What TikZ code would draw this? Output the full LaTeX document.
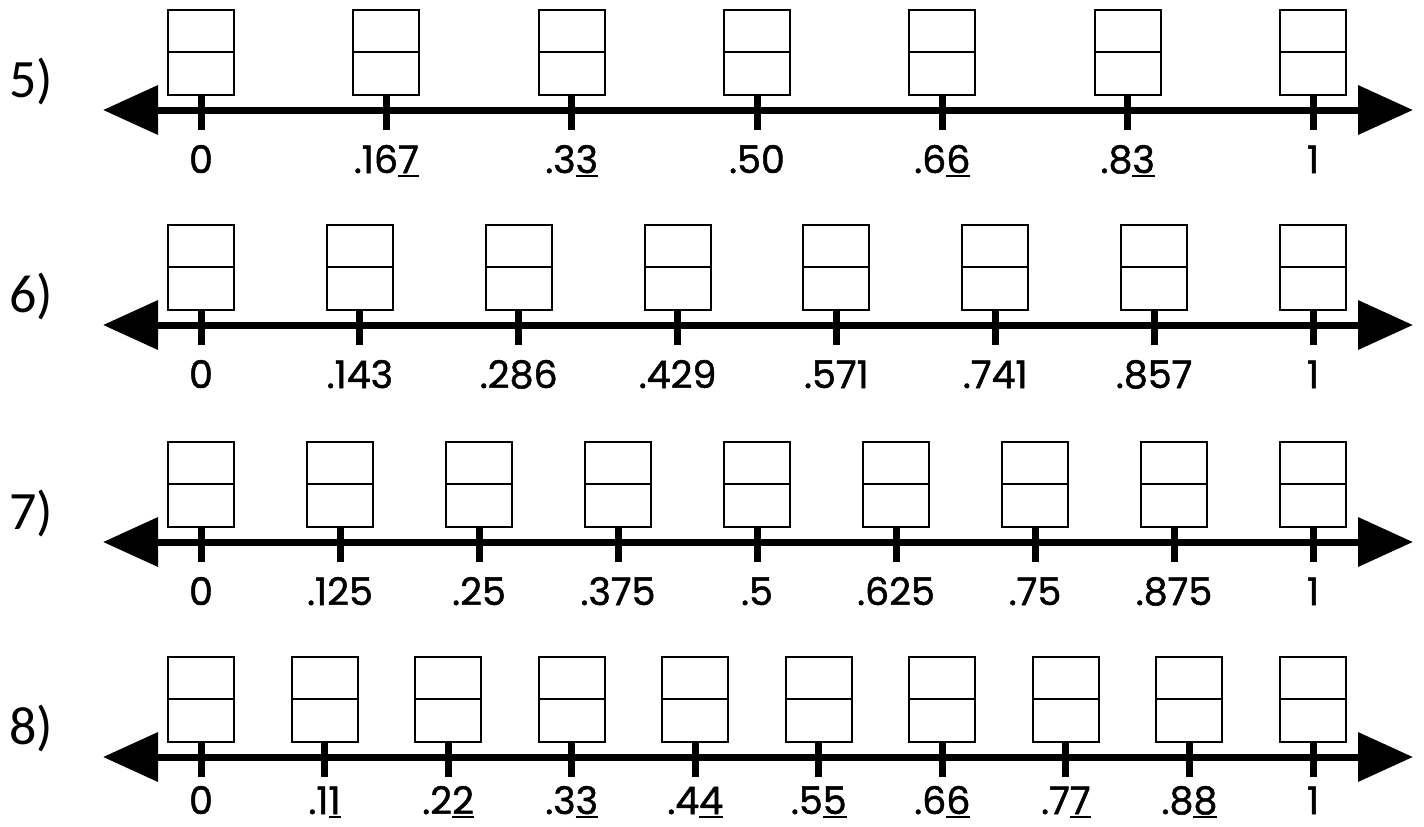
\documentclass[tikz,border=0pt]{standalone}
\usepackage{fontspec}
\setmainfont{Poppins}
\newfontfamily\numfont{Poppins}[FakeBold=1.3]
\newfontfamily\rowfont{Carlito}
\usetikzlibrary{arrows.meta}
\newcommand\rep[1]{\setbox0\hbox{#1}\rlap{\rule[-3.5pt]{\wd0}{1.6pt}}\box0}
\tikzset{
  ansbox/.style={draw, line width=2pt, minimum width=66pt, minimum height=85pt, inner sep=0pt},
  divider/.style={line width=2pt},
  axisline/.style={line width=7pt, {Triangle[length=55pt,width=48pt]}-{Triangle[length=55pt,width=48pt]}},
  tickmark/.style={line width=7pt},
  numlabel/.style={font=\numfont\fontsize{38}{46}\selectfont, anchor=base, inner sep=0pt, text depth=4pt},
  rowlabel/.style={font=\rowfont\fontsize{54}{60}\selectfont, inner sep=0pt}
}
\newcommand\numberrow[5]{%
  \coordinate (L#1) at (103,#2);
  \coordinate (R#1) at (1413,#2);
  \draw[axisline] (L#1) -- (R#1);
  \node[rowlabel] (row#1) at (31,#2-29) {#1)};
  \foreach \lab [count=\k from 0] in {#4} {
    \pgfmathsetmacro\xx{201+\k*1112/#3}
    \node[ansbox] (b#1-\k) at (\xx,#2-58) {};
    \draw[divider] (b#1-\k.west) -- (b#1-\k.east);
    \coordinate (t#1-\k) at (\xx,#2+20);
    \draw[tickmark] (b#1-\k.south) -- (t#1-\k);
    \node[numlabel] (n#1-\k) at (\xx,#2+#5) {\lab};
  }
}
\begin{document}
\begin{tikzpicture}[x=1pt,y=-1pt]
\useasboundingbox (0,0) rectangle (1424,827);
\numberrow{5}{110}{6}{0,.16\rep{7},.3\rep{3},.50,.6\rep{6},.8\rep{3},1}{63}
\numberrow{6}{325}{7}{0,.143,.286,.429,.571,.741,.857,1}{63}
\numberrow{7}{542}{8}{0,.125,.25,.375,.5,.625,.75,.875,1}{63}
\numberrow{8}{757}{9}{0,.1\rep{1},.2\rep{2},.3\rep{3},.4\rep{4},.5\rep{5},.6\rep{6},.7\rep{7},.8\rep{8},1}{57}
\end{tikzpicture}
\end{document}
